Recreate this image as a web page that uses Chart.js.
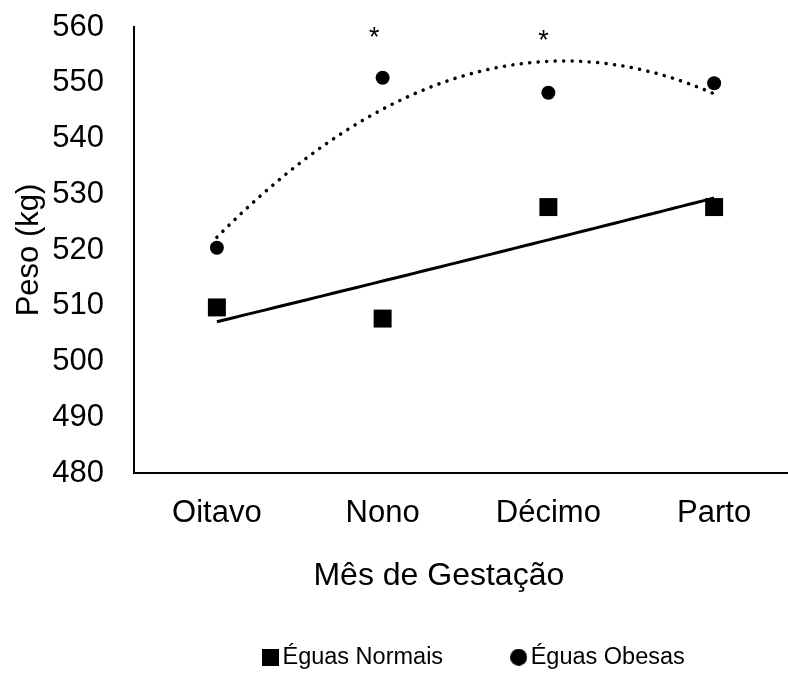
<!DOCTYPE html>
<html lang="pt">
<head>
<meta charset="utf-8">
<title>Peso das éguas por mês de gestação</title>
<script src="https://cdn.jsdelivr.net/npm/chart.js"></script>
<style>
  html, body { margin: 0; padding: 0; background: #fff; overflow: hidden; }
  #wrap { width: 798px; height: 673px; }
</style>
</head>
<body>
<div id="wrap"><canvas id="pesoChart" width="798" height="673"></canvas></div>
<script>
// dados
const meses = ['Oitavo', 'Nono', 'Décimo', 'Parto'];
const eguasNormais = [509.7, 507.7, 527.7, 527.7];
const eguasObesas = [520.4, 550.9, 548.2, 549.9];
const yMin = 480, yMax = 560, yStep = 10;
// asteriscos de significância (posição no eixo x, valor no eixo y)
const astPos = [1.95, 2.97];
const astValor = [558.9, 558.2];

const FONT = "'Liberation Sans', Arial, sans-serif";

// linhas de tendência como no Excel: exponencial (normais) e polinomial 2 (obesas)
function fitExp(ys) {
  const xs = ys.map((_, i) => i + 1);
  const n = ys.length;
  const ly = ys.map(v => Math.log(v));
  const mx = xs.reduce((a, b) => a + b) / n;
  const my = ly.reduce((a, b) => a + b) / n;
  let sxy = 0, sxx = 0;
  xs.forEach((x, i) => { sxy += (x - mx) * (ly[i] - my); sxx += (x - mx) * (x - mx); });
  const b = sxy / sxx, a = my - b * mx;
  return x => Math.exp(a + b * x);
}
function fitPoly2(ys) {
  const n = ys.length;
  const xs = ys.map((_, i) => i + 1);
  const mx = xs.reduce((a, b) => a + b) / n;
  const t = xs.map(x => x - mx);
  const st2 = t.reduce((s, v) => s + v * v, 0);
  const st4 = t.reduce((s, v) => s + v ** 4, 0);
  const sy = ys.reduce((a, b) => a + b);
  const sty = t.reduce((s, v, i) => s + v * ys[i], 0);
  const st2y = t.reduce((s, v, i) => s + v * v * ys[i], 0);
  const b = sty / st2;
  const c = (st2y - st2 * sy / n) / (st4 - st2 * st2 / n);
  const a = (sy - c * st2) / n;
  return x => a + b * (x - mx) + c * (x - mx) ** 2;
}
function curve(f) {
  const pts = [];
  for (let i = 0; i <= 60; i++) { const x = 1 + 3 * i / 60; pts.push({ x: x, y: f(x) }); }
  return pts;
}

function marker(kind, size) {
  const c = document.createElement('canvas');
  c.width = size; c.height = size;
  const g = c.getContext('2d');
  g.fillStyle = '#000';
  if (kind === 'rect') g.fillRect(0, 0, size, size);
  else { g.beginPath(); g.arc(size / 2, size / 2, size / 2, 0, Math.PI * 2); g.fill(); }
  return c;
}
const legendRect = marker('rect', 17);
const legendCircle = marker('circle', 17);

const asteriscos = {
  id: 'asteriscos',
  afterDatasetsDraw(chart) {
    const { ctx, scales: { x, y } } = chart;
    ctx.save();
    ctx.fillStyle = '#000';
    ctx.font = '27px ' + FONT;
    ctx.textAlign = 'center';
    ctx.textBaseline = 'middle';
    astPos.forEach((p, i) => ctx.fillText('*', x.getPixelForValue(p), y.getPixelForValue(astValor[i]) + 5));
    ctx.restore();
  }
};

// a legenda do original fica um pouco à direita do centro da área do gráfico
const legendaDesloc = {
  id: 'legendaDesloc',
  afterLayout(chart) {
    chart.legend.left += 12;
    chart.legend.right += 12;
  }
};

new Chart(document.getElementById('pesoChart'), {
  type: 'scatter',
  data: {
    datasets: [
      { label: 'Éguas Normais', data: eguasNormais.map((v, i) => ({ x: i + 1, y: v })),
        pointStyle: 'rect', pointRadius: 12.7, backgroundColor: '#000', borderColor: '#000', borderWidth: 0 },
      { label: 'Éguas Obesas', data: eguasObesas.map((v, i) => ({ x: i + 1, y: v })),
        pointStyle: 'circle', pointRadius: 7, backgroundColor: '#000', borderColor: '#000', borderWidth: 0 },
      { label: 'tend-normais', data: curve(fitExp(eguasNormais)), showLine: true, pointRadius: 0,
        borderColor: '#000', borderWidth: 3, tension: 0 },
      { label: 'tend-obesas', data: curve(fitPoly2(eguasObesas)), showLine: true, pointRadius: 0,
        borderColor: '#000', borderWidth: 3.5, borderDash: [0.1, 8.4], borderCapStyle: 'round', tension: 0 }
    ]
  },
  options: {
    responsive: false,
    animation: false,
    devicePixelRatio: 1,
    layout: { autoPadding: false, padding: { top: 27, left: 8, right: 1, bottom: -6 } },
    scales: {
      x: {
        type: 'linear', min: 0.5, max: 4.5,
        afterBuildTicks: s => { s.ticks = meses.map((_, i) => ({ value: i + 1 })); },
        afterFit: s => { s.height = 162.5; s.paddingLeft = 0; s.paddingRight = 0; },
        ticks: { callback: v => meses[v - 1], color: '#000', font: { family: FONT, size: 31 }, padding: 22, maxRotation: 0 },
        grid: { display: false, drawTicks: false },
        border: { display: true, color: '#000', width: 2 },
        title: { display: true, text: 'Mês de Gestação' + ' '.repeat(6), color: '#000', font: { family: FONT, size: 32 }, padding: { top: 40, bottom: 40 } }
      },
      y: {
        min: yMin, max: yMax,
        afterFit: s => { s.width = 126; s.paddingTop = 0; s.paddingBottom = 0; },
        ticks: { stepSize: yStep, color: '#000', font: { family: FONT, size: 31 }, padding: 30 },
        grid: { display: false, drawTicks: false },
        border: { display: true, color: '#000', width: 2 },
        title: { display: true, text: 'Peso (kg)', color: '#000', font: { family: FONT, size: 31 }, padding: 3 }
      }
    },
    plugins: {
      tooltip: { enabled: false },
      legend: {
        position: 'bottom',
        fullSize: false,
        labels: {
          usePointStyle: true,
          color: '#000',
          font: { family: FONT, size: 23.5 },
          boxWidth: 0.5, boxHeight: 17,
          padding: 10,
          generateLabels: chart => [
            { text: 'Éguas Normais' + ' '.repeat(10), pointStyle: legendRect, fillStyle: '#000', strokeStyle: '#000', lineWidth: 0, datasetIndex: 0, hidden: false },
            { text: 'Éguas Obesas', pointStyle: legendCircle, fillStyle: '#000', strokeStyle: '#000', lineWidth: 0, datasetIndex: 1, hidden: false }
          ]
        }
      }
    }
  },
  plugins: [asteriscos, legendaDesloc]
});
</script>
</body>
</html>
